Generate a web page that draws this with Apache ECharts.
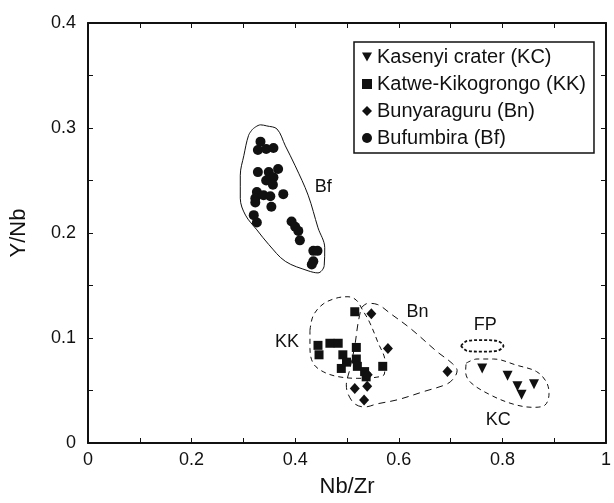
<!DOCTYPE html>
<html>
<head>
<meta charset="utf-8">
<script src="https://cdn.jsdelivr.net/npm/echarts@6/dist/echarts.min.js"></script>
<style>
  html, body { margin: 0; padding: 0; background: #fff; }
  #main { width: 614px; height: 503px; }
</style>
</head>
<body>
<div id="main"></div>
<script>
// 数据 [Nb/Zr, Y/Nb]
var kcData = [[0.761, 0.071], [0.810, 0.064], [0.829, 0.054], [0.837, 0.046], [0.861, 0.056]];
var kkData = [[0.515, 0.125], [0.444, 0.093], [0.467, 0.095], [0.483, 0.095], [0.446, 0.084],
              [0.518, 0.091], [0.492, 0.084], [0.499, 0.077], [0.518, 0.080], [0.489, 0.071],
              [0.520, 0.073], [0.534, 0.068], [0.537, 0.063], [0.569, 0.073]];
var bnData = [[0.547, 0.123], [0.579, 0.090], [0.540, 0.065], [0.515, 0.052], [0.539, 0.054],
              [0.533, 0.041], [0.694, 0.068]];
var bfData = [[0.333, 0.287], [0.328, 0.279], [0.344, 0.280], [0.358, 0.281], [0.328, 0.258],
              [0.349, 0.258], [0.367, 0.261], [0.358, 0.253], [0.344, 0.250], [0.357, 0.246],
              [0.326, 0.239], [0.323, 0.233], [0.339, 0.236], [0.352, 0.235], [0.377, 0.237],
              [0.323, 0.229], [0.354, 0.225], [0.320, 0.217], [0.326, 0.210], [0.393, 0.211],
              [0.400, 0.206], [0.406, 0.202], [0.409, 0.193], [0.435, 0.183], [0.443, 0.183],
              [0.435, 0.173], [0.432, 0.170]];

// 包络线
var bfHull = [[0.318, 0.299], [0.333, 0.303], [0.345, 0.302], [0.365, 0.299], [0.381, 0.283],
              [0.400, 0.264], [0.425, 0.236], [0.444, 0.205], [0.457, 0.186], [0.456, 0.169],
              [0.444, 0.162], [0.425, 0.164], [0.381, 0.173], [0.349, 0.189], [0.326, 0.203],
              [0.304, 0.217], [0.294, 0.233], [0.294, 0.255], [0.301, 0.274], [0.310, 0.293],
              [0.318, 0.299]];
var kkHull = [[0.4285, 0.1072], [0.4349, 0.1214], [0.4540, 0.1324], [0.4796, 0.1380], [0.5019, 0.1393],
              [0.5179, 0.1361], [0.5307, 0.1261], [0.5435, 0.1151], [0.5594, 0.0962], [0.5734, 0.0774],
              [0.5722, 0.0657], [0.5562, 0.0626], [0.5211, 0.0616], [0.4828, 0.0632], [0.4540, 0.0679],
              [0.4349, 0.0758], [0.4285, 0.0899], [0.4285, 0.1072]];
var bnHull = [[0.5274, 0.1286], [0.5402, 0.1330], [0.5594, 0.1318], [0.5849, 0.1229], [0.6232, 0.1088],
              [0.6743, 0.0868], [0.7031, 0.0758], [0.7126, 0.0689], [0.7075, 0.0626], [0.6935, 0.0563],
              [0.6488, 0.0491], [0.5977, 0.0412], [0.5594, 0.0374], [0.5338, 0.0343], [0.5147, 0.0374],
              [0.5019, 0.0469], [0.4987, 0.0554], [0.5051, 0.0695], [0.5147, 0.0915], [0.5211, 0.1135],
              [0.5274, 0.1286]];
var kcHull = [[0.730, 0.076], [0.751, 0.080], [0.783, 0.080], [0.828, 0.074], [0.866, 0.068],
              [0.885, 0.058], [0.890, 0.047], [0.882, 0.036], [0.859, 0.034], [0.821, 0.037],
              [0.776, 0.046], [0.738, 0.058], [0.729, 0.068], [0.730, 0.076]];
var fpHull = [[0.720, 0.0925], [0.732, 0.0972], [0.761, 0.0980], [0.790, 0.0972], [0.802, 0.0925],
              [0.790, 0.0878], [0.761, 0.0870], [0.732, 0.0878], [0.720, 0.0925]];

// 标注
var groupLabels = [[0.454, 0.244, 'Bf'], [0.384, 0.096, 'KK'], [0.636, 0.1245, 'Bn'],
                   [0.767, 0.112, 'FP'], [0.792, 0.022, 'KC']];

var seriesNames = ['Kasenyi crater (KC)', 'Katwe-Kikogrongo (KK)', 'Bunyaraguru (Bn)', 'Bufumbira (Bf)'];

var ink = '#111';
var fontName = 'Liberation Sans, Arial, sans-serif';

function hullLine(data, dash, width) {
    return {
        type: 'line',
        data: data,
        symbol: 'none',
        smooth: 0.35,
        silent: true,
        z: 1,
        lineStyle: { color: ink, width: width || 1, type: dash, opacity: 1 }
    };
}

// 坐标轴公共样式
function frameAxis(extra) {
    var base = {
        type: 'value',
        axisLine: { show: true, onZero: false, lineStyle: { color: ink, width: 2 } },
        axisTick: { show: true, inside: true, length: 5, lineStyle: { color: ink, width: 1 } },
        splitLine: { show: false },
        axisLabel: { show: false }
    };
    for (var k in extra) base[k] = extra[k];
    return base;
}

var myChart = echarts.init(document.getElementById('main'));

var option = {
    animation: false,
    backgroundColor: '#fff',
    textStyle: { fontFamily: fontName },
    grid: { left: 88, right: 5, top: 23, bottom: 56 },
    legend: {
        data: seriesNames,
        orient: 'vertical',
        left: 354,
        top: 42,
        padding: [5, 8, 5, 8],
        itemGap: 7,
        itemWidth: 10,
        itemHeight: 10,
        borderColor: ink,
        borderWidth: 1.5,
        textStyle: { fontSize: 20, color: ink, fontFamily: fontName }
    },
    xAxis: [
        frameAxis({
            min: 0, max: 1, interval: 0.1, position: 'bottom',
            name: 'Nb/Zr', nameLocation: 'middle', nameGap: 33,
            nameTextStyle: { fontSize: 22, color: ink },
            axisLabel: {
                show: true, fontSize: 18, color: ink, margin: 8,
                formatter: function (v) {
                    var r = Math.round(v * 10);
                    return r % 2 === 0 ? String(r / 10) : '';
                }
            }
        }),
        frameAxis({ min: 0, max: 1, interval: 0.1, position: 'top' })
    ],
    yAxis: [
        frameAxis({
            min: 0, max: 0.4, interval: 0.05, position: 'left',
            name: 'Y/Nb', nameLocation: 'middle', nameGap: 58,
            nameTextStyle: { fontSize: 22, color: ink },
            axisLabel: {
                show: true, fontSize: 18, color: ink, margin: 12,
                formatter: function (v) {
                    var r = Math.round(v * 100);
                    return r % 10 === 0 ? String(r / 100) : '';
                }
            }
        }),
        frameAxis({ min: 0, max: 0.4, interval: 0.05, position: 'right' })
    ],
    series: [
        {
            name: seriesNames[0], type: 'scatter', data: kcData,
            symbol: 'path://M0,0L10,0L5,9Z', symbolSize: 10,
            itemStyle: { color: ink, opacity: 1 }, z: 3
        },
        {
            name: seriesNames[1], type: 'scatter', data: kkData,
            symbol: 'rect', symbolSize: 9,
            itemStyle: { color: ink, opacity: 1 }, z: 3
        },
        {
            name: seriesNames[2], type: 'scatter', data: bnData,
            symbol: 'diamond', symbolSize: [10, 11],
            itemStyle: { color: ink, opacity: 1 }, z: 3
        },
        {
            name: seriesNames[3], type: 'scatter', data: bfData,
            symbol: 'circle', symbolSize: 10,
            itemStyle: { color: ink, opacity: 1 }, z: 3
        },
        hullLine(bfHull, 'solid', 1),
        hullLine(kkHull, [5, 4], 1),
        hullLine(bnHull, [7, 5], 1),
        hullLine(kcHull, [5, 4], 1),
        hullLine(fpHull, [3, 2], 1.8),
        {
            type: 'scatter', silent: true, z: 4,
            data: groupLabels,
            symbolSize: 0,
            itemStyle: { opacity: 1 },
            label: {
                show: true, position: 'inside',
                fontSize: 18, color: ink, fontFamily: fontName,
                formatter: function (p) { return p.value[2]; }
            }
        }
    ]
};

myChart.setOption(option);
</script>
</body>
</html>
